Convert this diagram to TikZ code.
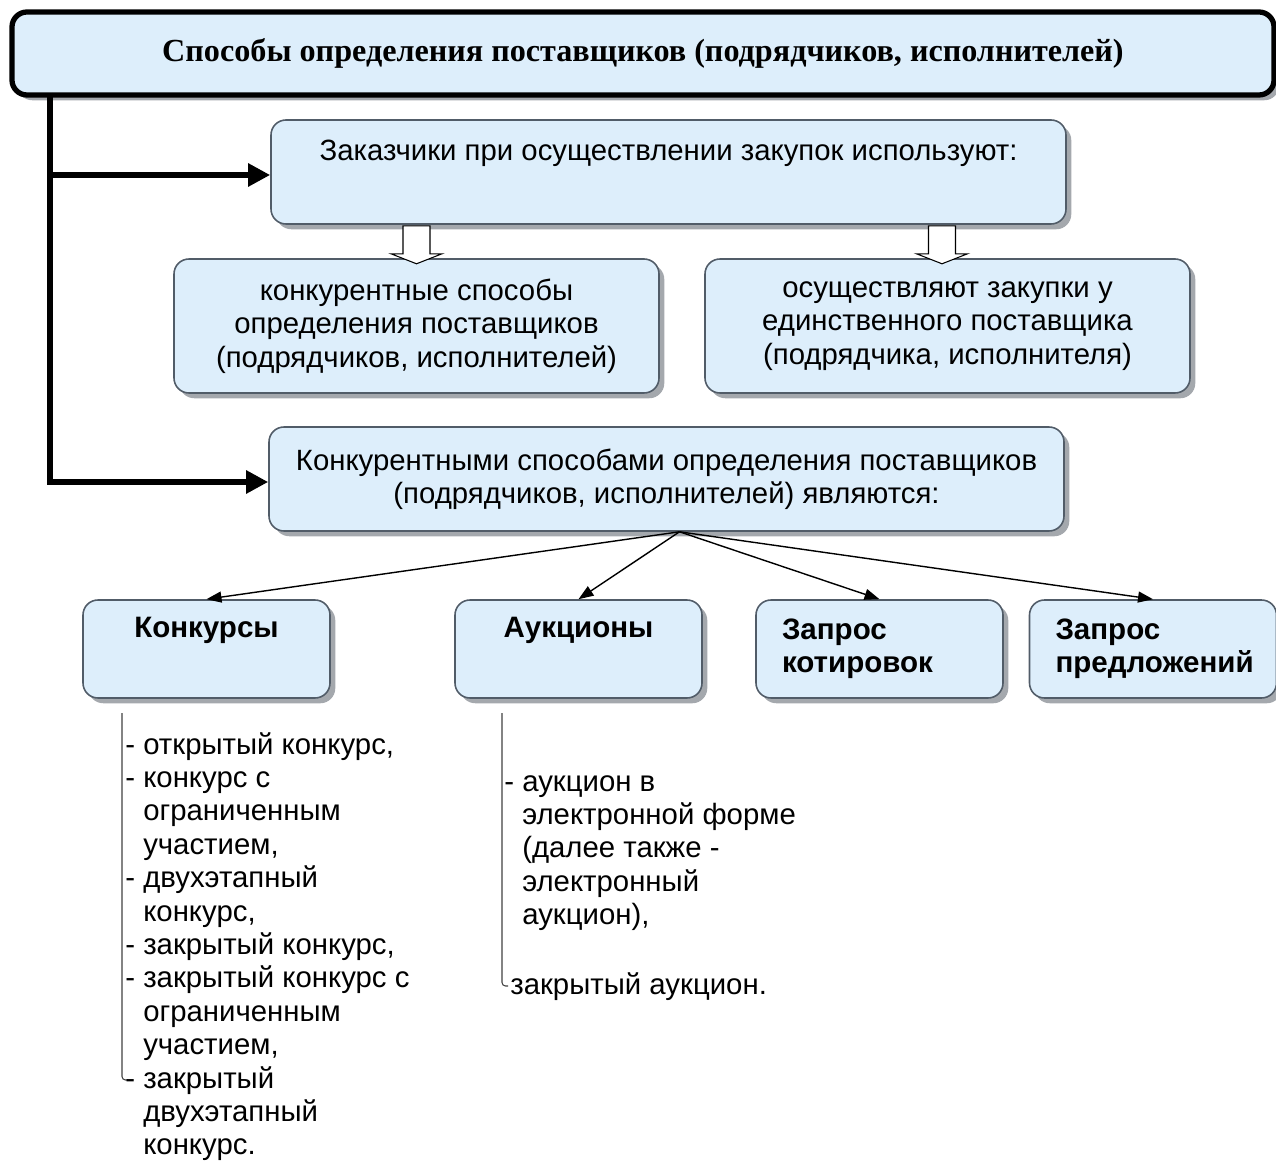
\documentclass[tikz,border=0pt]{standalone}
\usepackage{fontspec}
\setmainfont{Liberation Sans}
\newfontfamily\titlefont{Liberation Serif}
\usetikzlibrary{arrows.meta,calc,shadows}
\definecolor{boxfill}{HTML}{DDEEFB}
\definecolor{boxline}{HTML}{515C68}
\definecolor{shadowgray}{HTML}{A4A8AD}
\newcommand{\ind}{\hphantom{- }}
\newcommand{\hollowarrow}[1]{%
  \draw[hollow] (#1) ++(-13.5,0) -- ++(0,28) -- ++(-12,0) -- ++(25.5,10)
    -- ++(25.5,-10) -- ++(-12,0) -- ++(0,-28) -- cycle;}
\tikzset{
  >={Triangle[length=3mm,width=2.2mm]},
  box/.style={rectangle,rounded corners=3mm,draw=boxline,fill=boxfill,
              line width=0.9pt,inner sep=0pt,
              drop shadow={shadow xshift=3pt,shadow yshift=-3pt,
                           fill=shadowgray,opacity=1}},
  titlebox/.style={box,draw=black,line width=3pt,
                   font=\titlefont\bfseries\fontsize{18.3}{21}\selectfont},
  mid/.style={box,minimum width=97mm,minimum height=26.8mm,align=center},
  wide/.style={box,minimum width=159mm,minimum height=20.8mm,align=center},
  kind/.style={box,minimum width=49.4mm,minimum height=19.6mm,text width=39mm,
               font=\bfseries\fontsize{16.8}{19}\selectfont},
  feed/.style={-{Triangle[length=4.4mm,width=4.4mm]},line width=3.2pt},
  split/.style={->,line width=0.8pt},
  hollow/.style={draw=black,fill=white,line width=0.6pt},
  brace/.style={draw=black!75,line width=0.6pt,rounded corners=2pt},
  list/.style={anchor=north west,align=left,inner sep=0pt},
}
\begin{document}
\begin{tikzpicture}[x=0.2mm,y=-0.2mm,
    every node/.append style={font=\fontsize{16.7}{19}\selectfont}]
  \useasboundingbox (0,0) rectangle (1276,1161);
  % шапка и блоки
  \node[titlebox,minimum width=252.4mm,minimum height=16.6mm] (title) at (643,53.5)
    {Способы определения поставщиков (подрядчиков, исполнителей)};
  \node[wide] (zak) at (668.5,172) {Заказчики при осуществлении закупок используют:\\ \strut};
  \node[mid] (comp) at (416.5,326) {конкурентные способы\\определения поставщиков\\(подрядчиков, исполнителей)};
  \node[mid] (single) at (947.5,326) {осуществляют закупки у\\единственного поставщика\\(подрядчика, исполнителя)};
  \node[wide] (konk) at (666.5,479) {Конкурентными способами определения поставщиков\\(подрядчиков, исполнителей) являются:};
  \node[kind,align=center] (k1) at (206.5,649) {Конкурсы\\ \strut};
  \node[kind,align=center] (k2) at (578.5,649) {Аукционы\\ \strut};
  \node[kind,align=left] (k3) at (879.5,649) {Запрос\\котировок};
  \node[kind,align=left] (k4) at (1153,649) {Запрос\\предложений};
  % связи
  \coordinate (trunk) at (50,93);
  \coordinate (j1) at (50,175);
  \coordinate (j2) at (50,482);
  \draw[feed] (trunk) -- (j2) -- (konk.west |- j2);
  \draw[feed] (j1) -- (zak.west |- j1);
  \hollowarrow{$(zak.south)+(-252,1)$}
  \hollowarrow{$(zak.south)+(273.5,1)$}
  \coordinate (fan) at ($(konk.south)+(13,0)$);
  \foreach \t in {k1,k2,k3,k4}
    \draw[split] (fan) -- (\t.north);
  % перечни
  \draw[brace] (122,713) -- (122,1080) -- (128,1080);
  \node[list] (klist) at (125,732) {- открытый конкурс,\\- конкурс с\\\ind ограниченным\\\ind участием,\\- двухэтапный\\\ind конкурс,\\- закрытый конкурс,\\- закрытый конкурс с\\\ind ограниченным\\\ind участием,\\- закрытый\\\ind двухэтапный\\\ind конкурс.};
  \draw[brace] (502,713) -- (502,986) -- (508,986);
  \node[list] (alist) at (504,775) {- аукцион в\\\ind электронной форме\\\ind (далее также -\\\ind электронный\\\ind аукцион),};
  \node[list] (alast) at (510,972) {закрытый аукцион.};
\end{tikzpicture}
\end{document}
